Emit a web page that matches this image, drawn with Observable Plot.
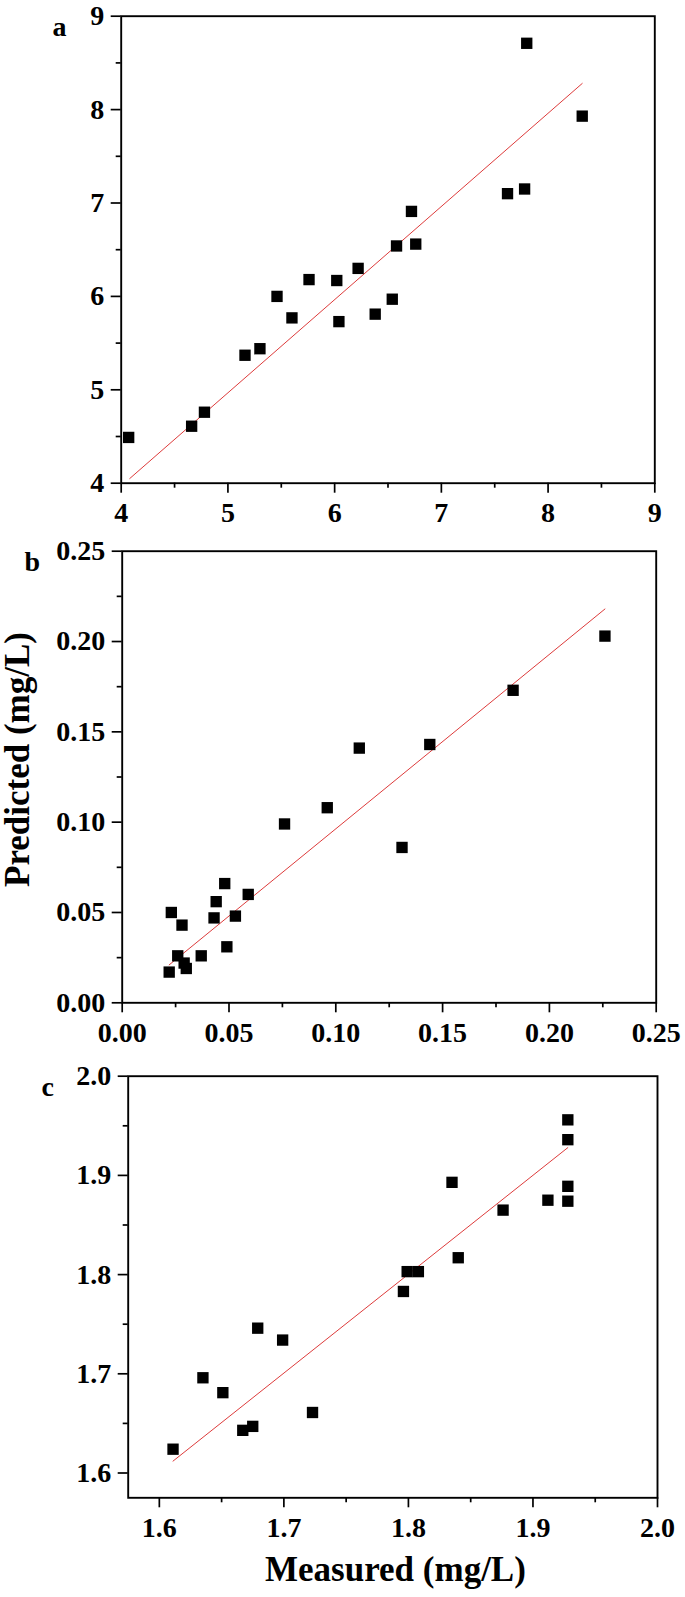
<!DOCTYPE html>
<html>
<head>
<meta charset="utf-8">
<script src="https://cdn.jsdelivr.net/npm/d3@7"></script>
<script src="https://cdn.jsdelivr.net/npm/@observablehq/plot@0.6"></script>
<style>
  html, body { margin: 0; padding: 0; background: #fff; }
  #wrap { position: relative; width: 685px; height: 1597px; background: #fff; }
  #wrap svg { position: absolute; left: 0; overflow: visible; }
</style>
</head>
<body>
<div id="wrap"></div>
<script>
// ---- Panel a data ----
const aMeasured  = [4.07, 4.66, 4.78, 5.16, 5.30, 5.46, 5.60, 5.76, 6.02, 6.04, 6.22, 6.38, 6.54, 6.58, 6.72, 6.76, 7.62, 7.78, 7.80, 8.32];
const aPredicted = [4.49, 4.61, 4.76, 5.37, 5.44, 6.00, 5.77, 6.18, 6.17, 5.73, 6.30, 5.81, 5.97, 6.54, 6.91, 6.56, 7.10, 7.15, 8.71, 7.93];
const aFitX = [4.08, 8.32];
const aFitY = [4.05, 8.28];
const aMajor = [4, 5, 6, 7, 8, 9];
const aMinor = [4.5, 5.5, 6.5, 7.5, 8.5];

// ---- Panel b data ----
const bMeasured  = [0.022, 0.023, 0.026, 0.028, 0.029, 0.030, 0.037, 0.043, 0.044, 0.048, 0.049, 0.053, 0.059, 0.076, 0.096, 0.111, 0.131, 0.144, 0.183, 0.226];
const bPredicted = [0.017, 0.050, 0.026, 0.043, 0.022, 0.019, 0.026, 0.047, 0.056, 0.066, 0.031, 0.048, 0.060, 0.099, 0.108, 0.141, 0.086, 0.143, 0.173, 0.203];
const bFitX = [0.022, 0.226];
const bFitY = [0.021, 0.218];
const bMajor = [0, 0.05, 0.10, 0.15, 0.20, 0.25];
const bMinor = [0.025, 0.075, 0.125, 0.175, 0.225];

// ---- Panel c data ----
const cMeasured  = [1.611, 1.635, 1.651, 1.667, 1.675, 1.679, 1.699, 1.723, 1.796, 1.799, 1.808, 1.835, 1.840, 1.876, 1.912, 1.928, 1.928, 1.928, 1.928];
const cPredicted = [1.624, 1.696, 1.681, 1.643, 1.647, 1.746, 1.734, 1.661, 1.783, 1.803, 1.803, 1.893, 1.817, 1.865, 1.875, 1.956, 1.936, 1.889, 1.874];
const cFitX = [1.611, 1.928];
const cFitY = [1.612, 1.928];
const cMajor = [1.6, 1.7, 1.8, 1.9, 2.0];
const cMinor = [1.65, 1.75, 1.85, 1.95];

const letters = ["a", "b", "c"];
const yTitle = "Predicted (mg/L)";
const xTitle = "Measured (mg/L)";

const FONT = "'Liberation Serif', 'Times New Roman', serif";
const RED = "#dd3b3b";
const TICK_FS = 28;

function zip(xs, ys) { return xs.map((x, i) => ({x, y: ys[i]})); }

function panel(cfg) {
  const pts = zip(cfg.mx, cfg.py);
  const fit = zip(cfg.fx, cfg.fy);
  const marks = [
    Plot.frame({strokeWidth: 1.9}),
    Plot.axisX(cfg.xMinor, {anchor: "bottom", tickSize: 5, tickFormat: () => "", label: null}),
    Plot.axisY(cfg.yMinor, {anchor: "left", tickSize: 5, tickFormat: () => "", label: null}),
    Plot.axisX(cfg.xMajor, {anchor: "bottom", tickSize: 10, tickPadding: 9, tickFormat: cfg.xFmt, fontSize: TICK_FS, label: null}),
    Plot.axisY(cfg.yMajor, {anchor: "left", tickSize: 10, tickPadding: 7, tickFormat: cfg.yFmt, fontSize: TICK_FS, label: null}),
    Plot.line(fit, {x: "x", y: "y", stroke: RED, strokeWidth: 1}),
    Plot.dot(pts, {x: "x", y: "y", symbol: "square", r: 6.4, fill: "black"}),
    Plot.text([cfg.letter], {frameAnchor: "top-left", textAnchor: "start", dx: cfg.letterDx, fontSize: 28, fontWeight: "bold"})
  ];
  if (cfg.extra) marks.push(...cfg.extra);
  const svg = Plot.plot({
    width: 685,
    height: cfg.height,
    marginTop: cfg.mt, marginBottom: cfg.mb, marginLeft: cfg.ml, marginRight: cfg.mr,
    x: {domain: cfg.xDomain, label: null},
    y: {domain: cfg.yDomain, label: null},
    style: {fontFamily: FONT, fontSize: TICK_FS + "px", fontWeight: "bold", background: "transparent", color: "black"},
    marks
  });
  // thicker tick strokes, like the reference
  d3.select(svg).selectAll('g[aria-label="x-axis tick"], g[aria-label="y-axis tick"]')
    .attr("stroke-width", 1.7);
  svg.style.top = cfg.top + "px";
  document.getElementById("wrap").appendChild(svg);
}

panel({
  top: 0, height: 540, mt: 15.7, mb: 57.3, ml: 120.7, mr: 30.7,
  mx: aMeasured, py: aPredicted, fx: aFitX, fy: aFitY,
  xDomain: [4, 9], yDomain: [4, 9],
  xMajor: aMajor, xMinor: aMinor, yMajor: aMajor, yMinor: aMinor,
  xFmt: d3.format("d"), yFmt: d3.format("d"),
  letter: letters[0], letterDx: -68.7
});

panel({
  top: 540, height: 510, mt: 10.7, mb: 47.7, ml: 121.7, mr: 29.3,
  mx: bMeasured, py: bPredicted, fx: bFitX, fy: bFitY,
  xDomain: [0, 0.25], yDomain: [0, 0.25],
  xMajor: bMajor, xMinor: bMinor, yMajor: bMajor, yMinor: bMinor,
  xFmt: d3.format(".2f"), yFmt: d3.format(".2f"),
  letter: letters[1], letterDx: -97.7,
  extra: [
    Plot.text([yTitle], {frameAnchor: "left", rotate: -90, textAnchor: "middle", dx: -104.9, dy: -17.5, fontSize: 35, fontWeight: "bold"})
  ]
});

panel({
  top: 1050, height: 547, mt: 25.7, mb: 99.7, ml: 127.7, mr: 28,
  mx: cMeasured, py: cPredicted, fx: cFitX, fy: cFitY,
  xDomain: [1.575, 2.0], yDomain: [1.575, 2.0],
  xMajor: cMajor, xMinor: cMinor, yMajor: cMajor, yMinor: cMinor,
  xFmt: d3.format(".1f"), yFmt: d3.format(".1f"),
  letter: letters[2], letterDx: -86.7,
  extra: [
    Plot.text([xTitle], {frameAnchor: "bottom", textAnchor: "middle", dx: 2.6, dy: 83, fontSize: 35, fontWeight: "bold"})
  ]
});
</script>
</body>
</html>
